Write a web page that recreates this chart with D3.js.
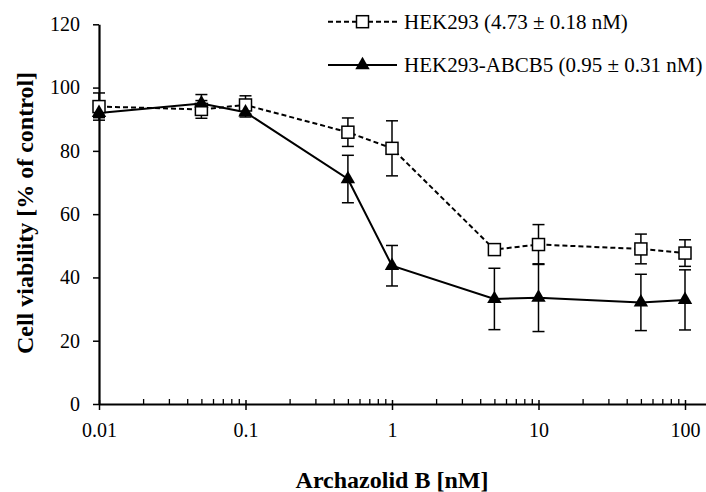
<!DOCTYPE html>
<html><head><meta charset="utf-8">
<script src="https://cdn.jsdelivr.net/npm/d3@7"></script>
<style>body{margin:0;background:#fff}svg{display:block}text{font-family:"Liberation Serif","Times New Roman",serif;fill:#000}</style>
</head><body><svg id="c" width="706" height="492"></svg>
<script>
const concentrations = [0.01, 0.05, 0.1, 0.5, 1, 5, 10, 50, 100];
const hek293Mean = [94.0, 93.1, 94.5, 85.9, 80.8, 48.8, 50.4, 49.0, 47.7];
const hek293Err  = [4.3, 2.8, 2.9, 4.5, 8.7, 1.5, 6.3, 4.7, 4.2];
const abcb5Mean  = [92.0, 95.0, 92.2, 71.1, 43.7, 33.2, 33.6, 32.1, 32.9];
const abcb5Err   = [1.5, 2.8, 1.5, 7.5, 6.4, 9.7, 10.7, 8.9, 9.5];
const seriesNames = ["HEK293 (4.73 ± 0.18 nM)", "HEK293-ABCB5 (0.95 ± 0.31 nM)"];
const xTicks = [0.01, 0.1, 1, 10, 100];
const yTicks = [0, 20, 40, 60, 80, 100, 120];
const xTitle = "Archazolid B [nM]";
const yTitle = "Cell viability [% of control]";

const svg = d3.select("#c");
const x = d3.scaleLog().domain([0.01, 100]).range([99, 685]);
const y = d3.scaleLinear().domain([0, 120]).range([404, 24.3]);
const xAxisScale = x.copy().domain([0.01, x.invert(706)]).range([99, 706]);

// minor ticks
const minorTicks = [];
for (let e = -2; e < 2; e++) for (let m = 2; m <= 9; m++) minorTicks.push(m * Math.pow(10, e));

const gMinor = svg.append("g").attr("transform", "translate(0,404)")
  .call(d3.axisBottom(xAxisScale).tickValues(minorTicks).tickSize(-5).tickFormat(""));
gMinor.select(".domain").remove();
gMinor.selectAll("line").attr("stroke", "#000").attr("stroke-width", 1.3);

const gx = svg.append("g").attr("transform", "translate(0,404)")
  .call(d3.axisBottom(xAxisScale).tickValues(xTicks).tickSize(5).tickSizeOuter(0).tickFormat(d => String(d)));
gx.select(".domain").attr("stroke", "#000").attr("stroke-width", 2.2);
gx.selectAll(".tick line").attr("y1", -4).attr("y2", 6).attr("stroke", "#000").attr("stroke-width", 1.5);
gx.selectAll(".tick text").attr("y", 33).attr("dy", null).style("font-size", "20px").attr("fill", "#000");

const gy = svg.append("g").attr("transform", "translate(99,0)")
  .call(d3.axisLeft(y).tickValues(yTicks).tickSize(6).tickSizeOuter(0).tickPadding(13));
gy.select(".domain").attr("stroke", "#000").attr("stroke-width", 2.2);
gy.selectAll(".tick line").attr("stroke", "#000").attr("stroke-width", 1.5);
gy.selectAll(".tick text").style("font-size", "20px").attr("fill", "#000");

// titles
svg.append("text").attr("x", 392).attr("y", 488).attr("text-anchor", "middle")
  .style("font-size", "24px").style("font-weight", "bold").text(xTitle);
svg.append("text").attr("transform", "translate(33,213) rotate(-90)").attr("text-anchor", "middle")
  .style("font-size", "24px").style("font-weight", "bold").text(yTitle);

const series = [
  {name: seriesNames[0], mean: hek293Mean, err: hek293Err, dash: "5,3", marker: "square"},
  {name: seriesNames[1], mean: abcb5Mean, err: abcb5Err, dash: null, marker: "triangle"}
];
series.forEach(s => { s.pts = concentrations.map((c, i) => ({c, m: s.mean[i], e: s.err[i]})); });

// error bars
series.forEach(s => {
  const g = svg.append("g").attr("stroke", "#000").attr("stroke-width", 1.5);
  s.pts.forEach(p => {
    const cx = x(p.c), y1 = y(p.m + p.e), y2 = y(p.m - p.e);
    g.append("line").attr("x1", cx).attr("x2", cx).attr("y1", y1).attr("y2", y2);
    g.append("line").attr("x1", cx - 6).attr("x2", cx + 6).attr("y1", y1).attr("y2", y1);
    g.append("line").attr("x1", cx - 6).attr("x2", cx + 6).attr("y1", y2).attr("y2", y2);
  });
});

// lines
const line = d3.line().x(p => x(p.c)).y(p => y(p.m));
series.forEach(s => {
  svg.append("path").datum(s.pts).attr("d", line).attr("fill", "none")
    .attr("stroke", "#000").attr("stroke-width", 2).attr("stroke-dasharray", s.dash);
});

function drawMarker(sel, type, cx, cy) {
  if (type === "square") {
    sel.append("rect").attr("x", cx - 6).attr("y", cy - 6).attr("width", 12).attr("height", 12)
      .attr("fill", "#fff").attr("stroke", "#000").attr("stroke-width", 1.5);
  } else {
    sel.append("path").attr("d", d3.symbol(d3.symbolTriangle, 90)()).attr("transform", `translate(${cx},${cy})`)
      .attr("fill", "#000");
  }
}
series.forEach(s => {
  const g = svg.append("g");
  s.pts.forEach(p => drawMarker(g, s.marker, x(p.c), y(p.m)));
});

// legend
const legY = [21.7, 65];
series.forEach((s, i) => {
  const g = svg.append("g");
  g.append("line").attr("x1", 328).attr("x2", 397).attr("y1", legY[i]).attr("y2", legY[i])
    .attr("stroke", "#000").attr("stroke-width", 2).attr("stroke-dasharray", s.dash);
  drawMarker(g, s.marker, 362.5, legY[i]);
  g.append("text").attr("x", 404).attr("y", legY[i] + 7).style("font-size", "21px").text(s.name);
});
</script></body></html>
